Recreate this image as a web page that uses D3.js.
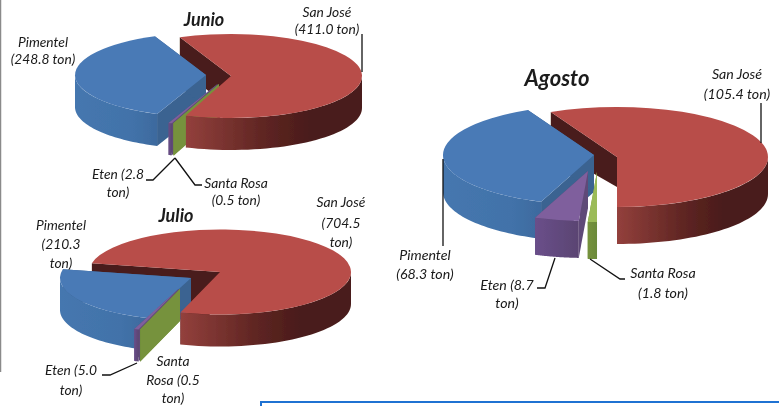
<!DOCTYPE html>
<html>
<head>
<meta charset="utf-8">
<script src="https://cdn.jsdelivr.net/npm/d3@7"></script>
<style>
  html, body { margin: 0; background: #fff; overflow: hidden; }
  text { font-family: Lato, "Open Sans", sans-serif; font-style: italic; fill: #1a1a1a; }
</style>
</head>
<body>
<svg id="chart" width="779" height="406"></svg>
<script>
// data, tons per port
const ports = ["San José", "Santa Rosa", "Eten", "Pimentel"];
const months = ["Junio", "Julio", "Agosto"];
const valuesJunio = [411.0, 0.5, 2.8, 248.8];
const valuesJulio = [704.5, 0.5, 5.0, 210.3];
const valuesAgosto = [105.4, 1.8, 8.7, 68.3];
const labelsJunio = [["San José", "(411.0 ton)"], ["Santa Rosa", "(0.5 ton)"], ["Eten (2.8", "ton)"], ["Pimentel", "(248.8 ton)"]];
const labelsJulio = [["San José", "(704.5", "ton)"], ["Santa", "Rosa (0.5", "ton)"], ["Eten (5.0", "ton)"], ["Pimentel", "(210.3", "ton)"]];
const labelsAgosto = [["San José", "(105.4 ton)"], ["Santa Rosa", "(1.8 ton)"], ["Eten (8.7", "ton)"], ["Pimentel", "(68.3 ton)"]];

// layout of each pie: apex = where each exploded slice has its point
const layout = [
  { values: valuesJunio, labels: labelsJunio, start: -23, rx: 131, ry: 42, depth: 32, wall: 32,
    apex: [[231, 76], [219, 84], [217.5, 84], [206, 75]],
    title: [204, 26, 18], size: 13.8,
    text: [[327, [17, 34]], [236, [188, 205]], [118, [179, 197]], [43, [47, 64]]],
    leaders: [[[362, 34], [362, 72]], [[175, 158], [153, 180], [146, 180]], [[175, 158], [195, 185], [202, 185]]] },
  { values: valuesJulio, labels: labelsJulio, start: -78, rx: 131, ry: 42.5, depth: 32, wall: 32,
    apex: [[220, 272], [180, 289], [178.5, 289], [191, 278]],
    title: [176, 222, 18], size: 13.8,
    text: [[341, [207, 228, 247]], [173, [366, 385, 403]], [71, [375, 395]], [61, [230, 249, 268]]],
    leaders: [[[137, 363], [110, 375], [102, 375]]] },
  { values: valuesAgosto, labels: labelsAgosto, start: -26, rx: 151, ry: 50, depth: 37, wall: 30,
    apex: [[617, 157], [597, 172], [588, 171], [594, 155]],
    title: [557, 86, 22], size: 14.2,
    text: [[737, [79, 99]], [663, [278, 298]], [507, [290, 308]], [425, [260, 279]]],
    leaders: [[[761, 103], [761, 143]], [[443, 159], [443, 246]], [[555, 258], [545, 288], [537, 288]], [[590, 259], [620, 279], [625, 279]]] }
];

const topColor = ["#b84d49", "#9bbb59", "#7f5f9d", "#4a7ab6"];
const wallColor = ["#4a1c1a", "#76923c", "#5f4a78", "#3a6391"];
const rimStops = [
  [[0, "#93403c"], [0.45, "#5e2522"], [0.7, "#4a1c1a"], [1, "#4a1c1a"]],
  [[0, "#76923c"], [1, "#6b8a3a"]],
  [[0, "#6a4f8a"], [1, "#5a4472"]],
  [[0, "#4577af"], [0.7, "#4272a9"], [1, "#3d6a9e"]]
];

const svg = d3.select("#chart");
const defs = svg.append("defs");
defs.append("filter").attr("id", "soft").append("feGaussianBlur").attr("stdDeviation", 0.7);
defs.append("filter").attr("id", "softText").append("feGaussianBlur").attr("stdDeviation", 0.3);

// left border and the box under the charts
svg.append("line").attr("x1", 0.5).attr("x2", 0.5).attr("y1", 0).attr("y2", 372)
  .attr("stroke", "#8a8a8a").attr("stroke-width", 1.5);
svg.append("rect").attr("x", 261).attr("y", 402).attr("width", 530).attr("height", 30)
  .attr("fill", "#fff").attr("stroke", "#1f72d2").attr("stroke-width", 2);

const rad = d => d * Math.PI / 180;
const line = d3.line();
const pie = d3.pie().sort(null).value(d => d);

layout.forEach((p, pi) => {
  const arcs = pie.startAngle(rad(p.start)).endAngle(rad(p.start + 360))(p.values);
  const g = svg.append("g").attr("filter", "url(#soft)");
  const arc = d3.arc().innerRadius(0).outerRadius(p.rx);
  const pt = (i, a) => [p.apex[i][0] + p.rx * Math.sin(a), p.apex[i][1] - p.ry * Math.cos(a)];

  function drawWalls(i) {
    [arcs[i].startAngle, arcs[i].endAngle].forEach(a => {
      const o = p.apex[i], e = pt(i, a), h = i === 0 ? p.wall : p.depth;
      g.append("path")
        .attr("d", line([o, e, [e[0], e[1] + p.depth], [o[0], o[1] + h]]) + "Z")
        .attr("fill", wallColor[i]);
    });
  }

  function drawRim(i) {
    // only the front half of the ellipse has a visible side
    [[Math.PI / 2, Math.PI * 1.5], [Math.PI * 2.5, Math.PI * 3.5]].forEach(f => {
      const a0 = Math.max(arcs[i].startAngle, f[0]), a1 = Math.min(arcs[i].endAngle, f[1]);
      if (a1 <= a0) return;
      const upper = d3.range(0, 41).map(k => pt(i, a0 + (a1 - a0) * k / 40));
      const lower = upper.map(q => [q[0], q[1] + p.depth]).reverse();
      const id = "rim" + pi + "_" + i;
      const xs = upper.map(q => q[0]);
      const grad = defs.append("linearGradient").attr("id", id).attr("gradientUnits", "userSpaceOnUse")
        .attr("x1", d3.min(xs)).attr("x2", d3.max(xs)).attr("y1", 0).attr("y2", 0);
      rimStops[i].forEach(s => grad.append("stop").attr("offset", s[0]).attr("stop-color", s[1]));
      g.append("path").attr("d", line(upper.concat(lower)) + "Z").attr("fill", "url(#" + id + ")");
    });
  }

  function drawTop(i) {
    g.append("path")
      .attr("d", arc(arcs[i]))
      .attr("transform", `translate(${p.apex[i][0]},${p.apex[i][1]}) scale(1,${p.ry / p.rx})`)
      .attr("fill", pi < 2 && i === 1 ? wallColor[1] : topColor[i]);
  }

  // inner red walls stay behind the other slices, red top goes over them
  drawWalls(0);
  [3, 2, 1].forEach(i => { drawWalls(i); drawRim(i); drawTop(i); });
  drawRim(0);
  drawTop(0);

  p.leaders.forEach(l => {
    svg.append("path").attr("d", line(l)).attr("fill", "none")
      .attr("stroke", "#111").attr("stroke-width", 1.3);
  });

  const t = svg.append("g").attr("filter", "url(#softText)");
  t.append("text").attr("x", p.title[0]).attr("y", p.title[1]).attr("text-anchor", "middle")
    .attr("font-weight", 700).attr("font-size", p.title[2]).text(months[pi]);
  p.labels.forEach((lines, i) => {
    lines.forEach((s, k) => {
      t.append("text").attr("x", p.text[i][0]).attr("y", p.text[i][1][k])
        .attr("text-anchor", "middle").attr("font-size", p.size).text(s);
    });
  });
});
</script>
</body>
</html>
